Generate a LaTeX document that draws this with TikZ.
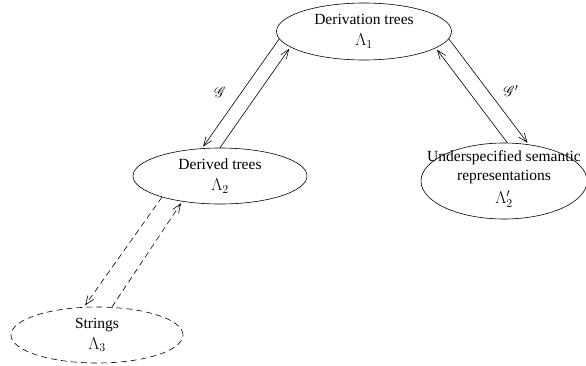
\documentclass[tikz,border=0pt]{standalone}
\usepackage{fontspec}
\setmainfont{Liberation Serif}
\usepackage{mathrsfs}
\usepackage{tikz}
\usetikzlibrary{shapes.geometric,arrows.meta}
\newcommand{\lam}[1]{{\fontsize{18}{21}\selectfont$#1$}}

\begin{document}
\begin{tikzpicture}[x=1pt,y=-1pt,line width=0.6pt,
    >={Straight Barb[length=9pt,width=7pt]},
    blob/.style={ellipse,draw,inner sep=0pt,align=center,
      font=\fontsize{15.5}{21}\selectfont},
    dashblob/.style={blob,dash pattern=on 6pt off 4pt},
    link/.style={->,shorten >=2pt},
    dashlink/.style={link,dash pattern=on 6pt off 4pt}]
    \useasboundingbox (0,0) rectangle (586,365);
    \node[blob,minimum width=175pt,minimum height=57pt] (deriv) at (364,31.5)
      {Derivation trees\\\lam{\Lambda_1}};
    \node[blob,minimum width=174pt,minimum height=56pt] (derived) at (220,176)
      {Derived trees\\\lam{\Lambda_2}};
    \node[blob,minimum width=166pt,minimum height=76pt] (usr) at (504,181) {};
    \node[align=center,font=\fontsize{15.5}{19}\selectfont] (usrtext) at (504,179)
      {Underspecified semantic\\representations\\[4pt]\lam{\Lambda'_2}};
    \node[dashblob,minimum width=172pt,minimum height=56pt] (strings) at (97,335)
      {Strings\\\lam{\Lambda_3}};
    % G : derivation trees <-> derived trees
    \draw[link] (deriv.185) -- (derived.123);
    \draw[link] (derived.90) -- (deriv.192.6);
    \node[font=\fontsize{15.5}{18}\selectfont] (g) at (220,92) {$\mathscr{G}$};
    % G' : derivation trees <-> semantics
    \draw[link] (deriv.355.7) -- (usr.56.3);
    \draw[link] (usr.85) -- (deriv.347.6);
    \node[font=\fontsize{15.5}{18}\selectfont] (gp) at (511,91) {$\mathscr{G}'$};
    % derived trees <-> strings
    \draw[dashlink] (derived.200) -- (strings.115);
    \draw[dashlink] (strings.62.6) -- (derived.214);
  \end{tikzpicture}
\end{document}
